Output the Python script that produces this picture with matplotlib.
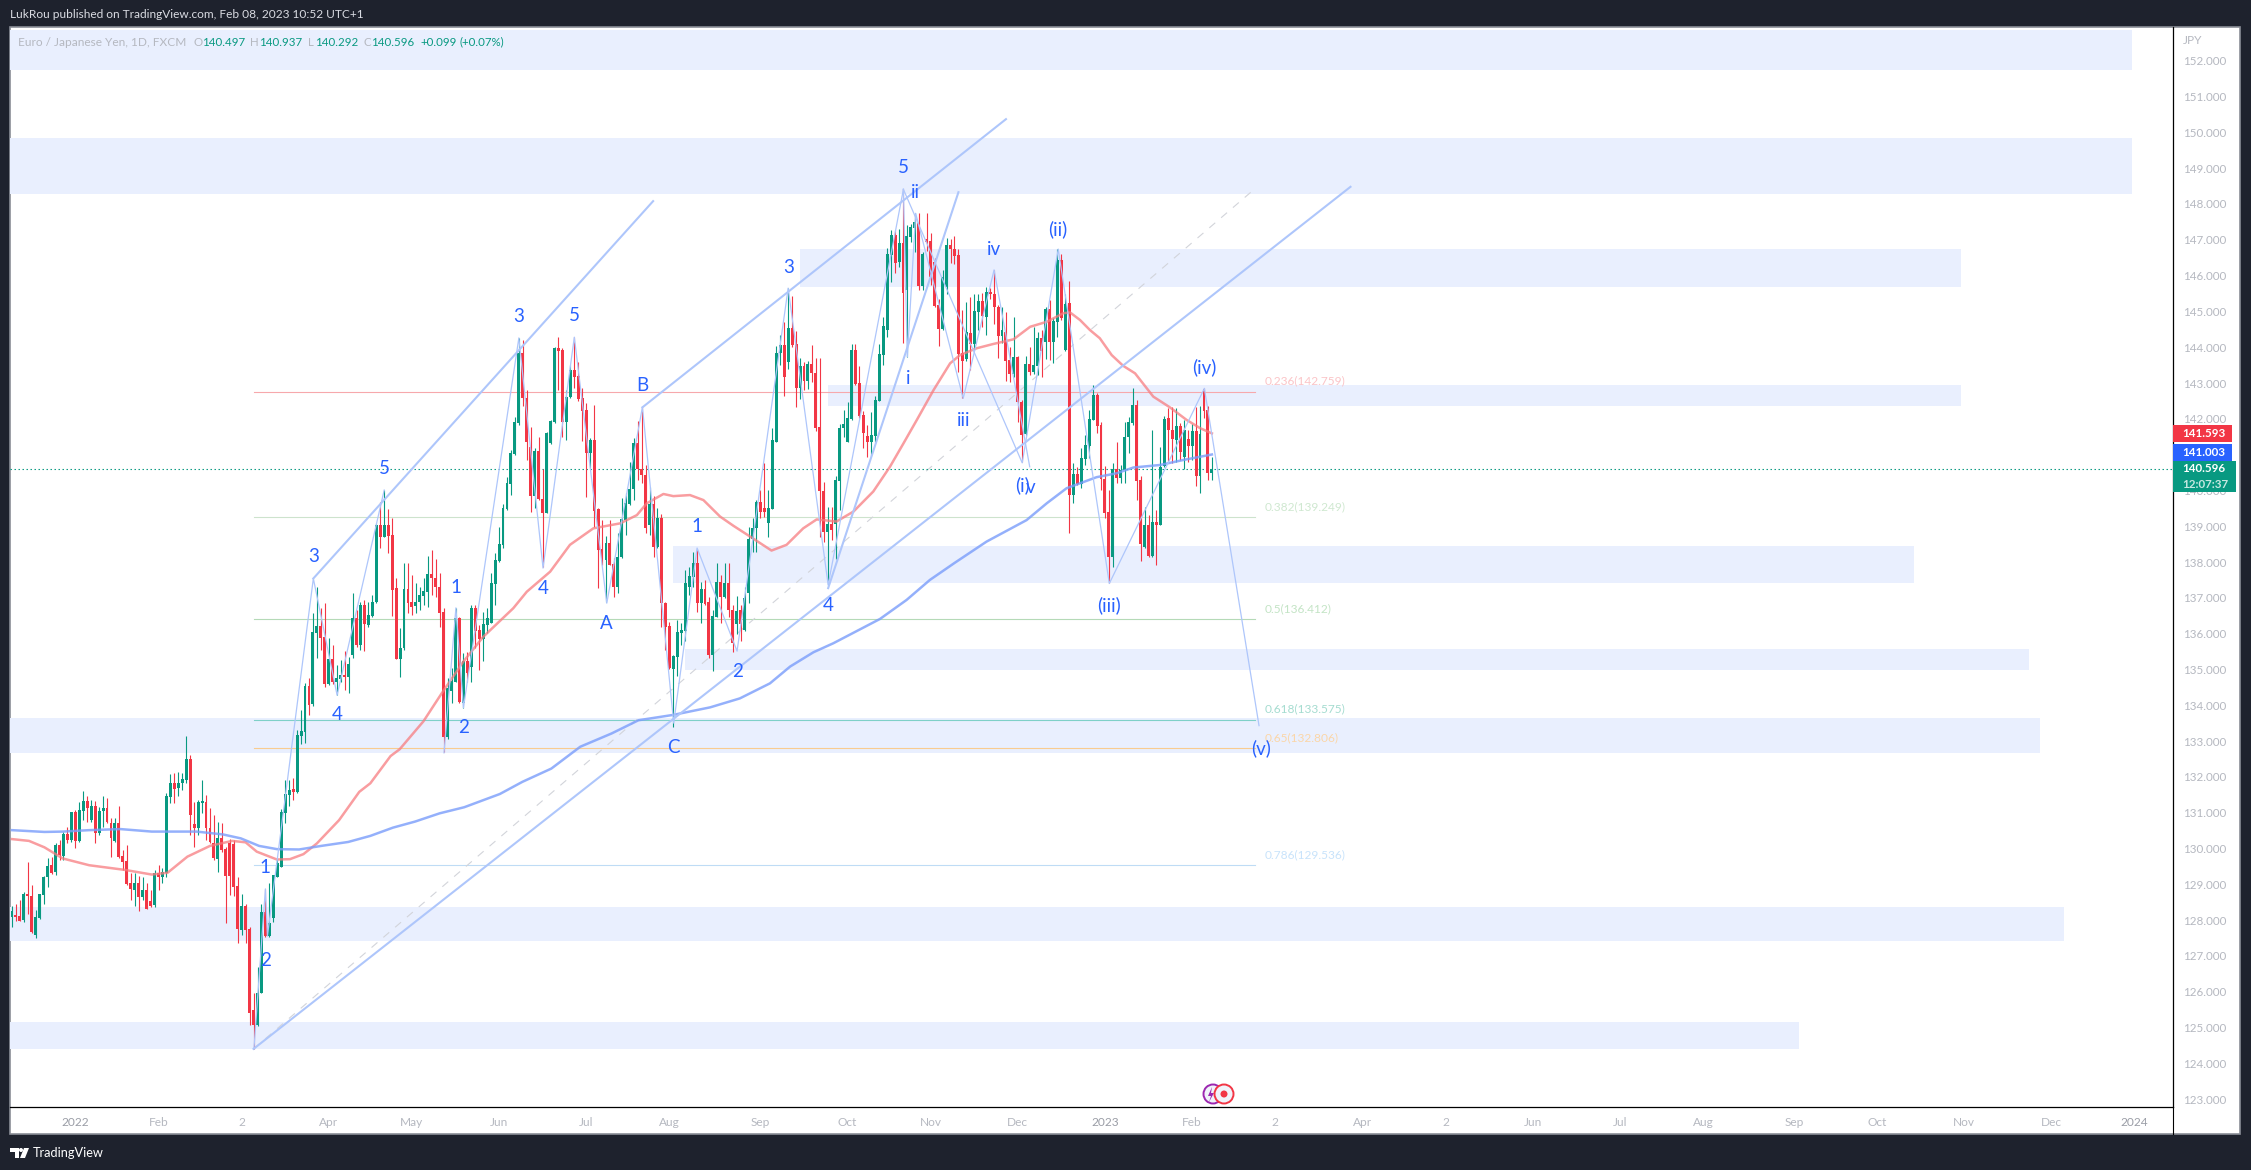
"""
EUR/JPY daily candles with elliott wave counts, fib levels and zones.
Values read by eye off the published TradingView chart.
"""

import matplotlib
matplotlib.use("Agg")
import matplotlib.pyplot as plt
from matplotlib.patches import Rectangle, Circle, Polygon
from matplotlib.transforms import Affine2D

W = 2251
H = 1170
plt.rcParams["font.family"] = ["Lato", "DejaVu Sans"]

GREEN = "#089981"
RED = "#f23645"
BLUE = "#2962ff"
DARK = "#1e222d"
BAND = "#e9effe"
GREY = "#b5b8c0"

# candles, one row per 10 bars
opens = [
    128.09,128.14,128.11,127.99,128.72,128.68,127.58,128.06,128.70,129.19,
    129.53,129.35,130.09,129.79,130.40,130.23,131.01,130.21,131.05,131.32,
    130.79,131.18,130.42,131.04,131.12,130.70,130.21,130.70,129.79,129.65,
    129.02,128.84,129.02,128.63,128.84,128.54,128.42,129.30,129.19,129.32,
    131.44,131.83,131.68,131.83,131.91,132.51,130.67,130.58,131.28,131.30,
    130.56,130.14,129.70,130.28,129.98,130.14,130.11,128.95,127.72,128.39,
    127.74,125.49,125.07,125.95,128.23,127.55,128.05,129.21,129.49,130.98,
    131.49,131.65,131.58,133.14,133.26,134.53,134.03,136.01,136.21,135.90,
    134.59,135.29,134.64,134.73,134.83,134.80,135.40,136.43,135.68,136.80,
    136.24,136.49,136.89,139.04,138.71,139.04,138.75,137.26,135.29,135.59,
    137.24,136.89,136.77,136.89,137.06,137.17,137.66,137.54,137.29,136.59,
    133.10,134.41,134.66,136.43,134.07,135.24,135.08,136.71,136.10,135.85,
    136.24,136.31,137.38,138.03,138.47,139.47,140.18,141.02,141.87,143.85,
    142.57,141.20,139.84,141.09,139.75,139.38,141.32,141.92,143.98,143.92,
    141.92,142.60,143.35,143.20,142.57,142.25,141.04,141.41,139.47,138.35,
    138.06,138.52,137.94,137.31,138.13,139.17,139.62,140.03,141.32,140.59,
    140.43,139.03,139.62,138.43,139.24,136.86,136.21,135.01,135.36,136.03,
    136.08,137.31,137.59,137.96,136.85,137.24,136.89,135.40,136.47,137.45,
    137.03,137.42,136.66,136.27,136.66,136.10,137.14,138.63,138.94,139.67,
    139.50,139.08,139.49,141.36,143.83,144.06,143.60,144.55,144.09,142.87,
    143.47,143.06,143.53,143.29,141.78,139.98,138.85,139.06,139.06,140.27,
    141.73,141.36,141.99,143.92,142.99,142.11,141.53,141.36,141.53,142.51,
    143.78,144.48,146.57,147.13,146.39,146.90,145.61,147.09,147.32,147.48,
    145.71,147.01,146.98,146.39,145.18,144.51,145.69,146.85,146.75,146.57,
    143.83,143.66,144.41,144.09,144.97,145.30,144.85,145.53,145.49,145.13,
    144.32,144.43,143.64,143.25,143.74,142.48,141.58,143.53,143.32,143.47,
    144.27,144.15,145.06,144.15,144.71,146.43,143.92,145.23,139.87,140.46,
    140.18,140.88,141.24,141.97,142.67,141.83,140.31,139.41,138.15,140.59,
    140.34,140.57,141.48,141.89,142.39,140.29,138.41,139.04,138.17,139.13,
    139.04,140.68,142.01,141.69,141.41,141.80,140.92,141.43,141.24,141.67,
    140.39,142.82,142.25,140.497,
]
closes = [
    128.25,128.09,127.98,128.72,128.68,127.67,128.09,128.72,129.19,129.52,
    129.32,130.09,129.81,130.40,130.23,131.01,130.21,131.07,131.32,131.12,
    131.18,130.44,131.05,131.12,130.75,130.30,130.72,129.77,129.63,129.00,
    128.88,129.02,128.63,128.84,128.32,128.39,129.32,129.21,129.35,131.47,
    131.82,131.65,131.84,131.93,132.51,130.93,130.58,131.29,131.33,130.56,
    130.19,129.72,130.28,129.95,129.24,129.23,128.93,127.74,128.39,127.72,
    125.41,125.07,125.95,128.23,127.55,127.93,129.26,129.58,131.01,131.51,
    131.63,131.58,133.17,133.28,134.53,134.00,136.05,136.22,135.89,134.59,
    135.29,134.66,134.75,134.83,134.80,135.15,136.43,135.68,136.80,136.27,
    136.52,136.89,139.04,138.71,139.04,138.73,137.22,135.29,135.59,137.24,
    136.86,136.73,136.89,137.08,137.20,137.66,137.54,137.29,136.58,133.12,
    134.47,134.68,136.43,134.10,135.24,134.89,136.71,136.08,135.85,136.27,
    136.43,137.40,138.06,138.49,139.50,140.20,141.04,141.90,143.85,142.57,
    141.36,139.84,141.11,139.75,139.38,141.59,141.94,143.99,143.90,141.92,
    142.62,143.35,143.18,142.54,142.23,141.04,141.41,139.43,138.34,138.06,
    138.52,137.92,137.31,138.13,139.19,139.64,140.03,141.32,140.59,140.43,
    138.94,139.62,138.43,139.24,136.86,136.19,135.03,135.38,136.05,136.10,
    137.42,137.61,137.96,136.85,137.24,136.83,135.40,136.49,137.45,137.03,
    137.42,136.66,135.75,136.64,136.27,136.99,138.63,138.94,139.67,139.41,
    139.41,139.50,141.41,143.85,144.06,143.18,144.55,144.06,142.87,143.47,
    143.06,143.53,143.27,141.75,139.97,138.85,139.06,138.89,140.29,141.75,
    141.85,142.03,143.92,142.97,142.09,141.59,141.36,141.55,142.53,143.81,
    144.59,146.60,147.13,146.34,146.90,145.52,147.11,147.35,147.51,145.71,
    146.60,146.95,145.97,145.15,144.51,145.97,146.85,146.73,146.55,143.81,
    143.62,144.43,144.09,145.00,145.30,144.87,145.53,145.48,145.11,144.32,
    144.48,143.62,143.25,143.72,142.48,141.55,143.53,143.32,143.50,144.27,
    143.88,145.07,144.15,144.74,146.43,144.81,145.22,139.87,140.46,140.18,
    140.90,141.27,141.99,142.67,141.80,140.31,139.38,138.15,140.59,140.34,
    140.57,141.48,141.92,142.39,140.27,138.50,139.04,138.17,139.13,139.04,
    140.64,142.00,141.69,141.43,141.80,141.08,141.69,141.24,141.67,140.39,
    141.58,142.23,140.50,140.596,
]
highs = [
    128.39,128.45,128.56,128.79,129.62,128.98,128.28,128.74,129.23,129.72,
    129.77,130.16,130.23,130.47,130.59,131.01,131.07,131.30,131.60,131.46,
    131.35,131.33,131.16,131.46,131.40,130.84,130.84,131.18,129.95,130.09,
    129.30,129.30,129.23,129.21,129.02,128.84,129.40,129.53,129.44,131.54,
    132.08,132.10,132.14,132.11,133.14,132.60,131.30,131.35,131.91,131.49,
    131.12,130.93,130.75,130.70,130.05,130.25,130.23,129.21,128.74,128.46,
    127.81,125.95,126.70,128.46,128.86,129.02,129.26,129.72,131.09,131.91,
    131.91,131.96,133.32,133.88,134.63,134.75,136.57,137.31,136.71,136.86,
    135.87,135.68,135.12,135.26,135.52,135.36,137.14,136.66,136.89,136.94,
    136.89,137.08,139.08,139.68,140.01,139.47,139.22,137.54,136.15,137.98,
    137.98,137.64,137.40,137.31,137.54,138.17,138.34,138.07,137.68,136.71,
    134.75,135.03,136.71,136.47,135.45,135.50,136.80,136.80,136.24,136.61,
    136.71,137.68,138.24,138.99,139.62,140.38,141.13,142.06,144.25,144.20,
    142.80,141.78,141.18,141.48,140.59,141.62,141.97,144.01,144.28,143.97,
    142.80,143.50,144.28,143.60,142.85,142.45,141.45,142.39,139.50,139.17,
    138.73,139.17,138.10,138.80,139.78,139.92,140.80,141.45,141.95,142.32,
    140.71,140.10,139.83,139.50,139.33,136.89,136.33,135.40,136.38,136.29,
    137.78,137.87,138.29,138.35,137.45,137.50,137.03,136.66,137.96,137.64,
    137.96,137.96,136.80,137.05,136.80,137.31,138.99,139.22,139.73,140.01,
    140.76,140.01,141.73,144.03,144.34,144.71,145.64,145.43,144.46,143.69,
    143.60,143.62,144.06,143.69,143.69,140.24,139.53,139.53,140.40,141.85,
    142.25,142.48,144.09,144.09,143.47,142.23,141.83,142.20,142.64,144.09,
    144.83,146.76,147.27,147.27,147.29,148.41,147.41,147.44,147.74,147.76,
    146.67,147.76,147.20,146.48,145.36,146.16,147.04,147.01,147.11,146.73,
    145.04,145.27,145.41,145.50,145.50,145.52,145.67,145.64,146.16,145.18,
    145.13,144.99,144.00,144.85,143.75,142.52,143.75,144.00,144.57,144.43,
    144.48,145.13,145.32,144.81,146.74,146.60,145.50,145.85,140.76,140.66,
    141.18,141.55,142.25,142.95,142.71,141.92,140.67,140.01,140.76,141.36,
    140.71,141.92,142.06,142.87,142.53,140.40,139.55,139.31,141.69,139.44,
    141.22,142.08,142.29,142.34,142.29,141.87,141.97,141.69,141.86,142.34,
    142.36,142.85,142.36,140.937,
]
lows = [
    127.81,127.98,127.98,127.95,128.18,127.63,127.51,128.04,128.45,128.93,
    129.28,129.26,129.67,129.67,130.14,130.19,130.00,130.19,130.79,130.75,
    130.75,130.16,130.37,130.61,130.70,129.77,130.19,129.72,129.40,128.98,
    128.56,128.39,128.26,128.56,128.30,128.35,128.37,128.84,129.04,129.21,
    131.26,131.28,131.46,131.63,131.82,130.37,130.05,130.37,130.98,130.23,
    130.16,129.69,129.35,129.91,127.91,128.70,128.67,127.35,127.58,127.35,
    125.07,124.40,125.04,125.95,127.53,127.53,127.95,129.19,129.49,130.72,
    131.18,131.35,131.56,132.93,132.95,133.73,133.98,135.33,135.54,134.52,
    134.57,134.59,134.29,134.66,134.42,134.33,135.31,135.63,135.54,135.52,
    136.19,136.47,136.85,138.38,138.71,138.26,136.49,135.29,134.80,135.54,
    136.57,136.52,136.57,136.66,136.80,136.75,137.08,137.03,136.19,132.68,
    133.07,134.05,134.66,134.07,133.93,134.66,134.66,135.59,134.98,135.24,
    136.01,136.29,136.80,138.01,138.38,139.45,139.87,140.99,141.83,142.36,
    140.85,139.41,139.50,139.73,137.87,139.36,141.30,141.87,142.80,141.50,
    141.41,142.57,142.85,142.51,141.39,139.81,140.62,138.99,137.26,137.92,
    136.89,137.92,137.03,137.14,138.10,138.75,139.59,139.73,140.29,140.20,
    138.80,138.75,138.15,138.38,136.19,135.54,135.00,133.40,134.82,135.68,
    135.79,137.08,137.31,136.61,136.31,136.80,135.31,134.96,136.47,136.29,
    136.99,136.47,135.50,136.00,135.78,136.08,136.85,138.29,138.29,139.22,
    139.25,138.71,139.49,141.36,143.50,142.64,143.38,144.01,142.32,142.54,
    142.80,142.82,143.04,141.67,138.71,138.57,137.36,138.61,138.07,139.45,
    141.50,141.36,141.97,142.94,142.01,141.19,140.94,140.97,141.36,142.51,
    143.50,144.29,145.83,146.08,146.25,144.11,143.73,146.95,146.67,145.60,
    145.60,146.70,145.74,145.13,144.03,144.48,145.49,146.34,146.32,143.32,
    142.57,143.62,143.36,143.92,144.48,144.57,144.34,145.36,144.65,143.69,
    144.11,143.06,143.04,143.18,141.92,140.78,141.55,143.22,143.25,143.22,
    143.18,143.66,143.64,143.55,144.29,144.76,143.88,138.82,139.64,140.15,
    140.06,140.71,140.90,141.97,141.60,140.01,139.22,137.41,137.87,140.20,
    140.20,140.20,141.04,141.83,139.73,138.04,138.39,138.15,138.15,137.92,
    139.04,140.66,140.80,140.76,140.80,140.85,140.59,140.80,140.85,140.11,
    139.94,142.01,140.29,140.292,
]

# moving averages, (bar, price) read at the bends
ma_red_x = [0, 4.3, 8.2, 12.8, 19.5, 28.5, 35.3, 39.3, 44.3, 50, 55.6, 59, 61.8, 66.9, 70.2, 73.6, 77,
            82.6, 87.7, 90.5, 95.6, 97.9, 103.9, 108.5, 114, 119, 126.6, 130, 135.9, 140.9, 146.8,
            153.6, 157.8, 160.3, 164.5, 167, 171.2, 174.6, 178.8, 182.2, 186.4, 191.8, 195.6, 199.8,
            203.2, 208.2, 212.5, 217.5, 221.7, 225.1, 228.5, 232.7, 236.9, 239.4, 243.6, 247.8,
            252.9, 257.1, 261.3, 265.5, 267.2, 269.7, 272.2, 274.7, 277.7, 280.6, 283.6, 288.2,
            292.4, 296.6, 300, 303]
ma_red_y = [130.26, 130.21, 130.03, 129.72, 129.53, 129.40, 129.27, 129.32, 129.77, 130.07, 130.21, 130.17,
            129.91, 129.69, 129.70, 129.84, 130.14, 130.79, 131.58, 131.82, 132.58, 132.77, 133.55,
            134.33, 135.22, 135.91, 136.71, 137.17, 137.73, 138.48, 138.94, 139.08, 139.31, 139.64,
            139.90, 139.84, 139.87, 139.73, 139.27, 139.01, 138.71, 138.32, 138.48, 138.94, 139.19,
            139.13, 139.41, 139.97, 140.66, 141.31, 141.97, 142.80, 143.55, 143.78, 143.97, 144.09,
            144.22, 144.57, 144.71, 144.95, 144.97, 144.76, 144.48, 144.25, 143.78, 143.48, 143.27,
            142.62, 142.32, 141.97, 141.74, 141.593]
ma_blue_x = [0, 8.2, 12.8, 19.5, 27.4, 35.3, 46.6, 53.3, 57.8, 62.4, 66.9, 72.5, 78.1, 84.9, 90.5, 96.2,
             101.8, 108, 114.2, 123.2, 128.9, 136.2, 143.5, 151.4, 158.2, 167, 176.3, 183.8, 191.4,
             196.5, 202.4, 207.4, 219.2, 225.9, 231.8, 238.1, 246.1, 256.2, 261.3, 266.3, 273.9,
             279, 283.2, 289.9, 295.8, 303]
ma_blue_y = [130.51, 130.46, 130.47, 130.51, 130.54, 130.47, 130.47, 130.39, 130.28, 130.07, 129.98, 129.97,
             130.07, 130.18, 130.35, 130.58, 130.75, 130.98, 131.15, 131.52, 131.86, 132.23, 132.84,
             133.21, 133.58, 133.73, 133.94, 134.19, 134.61, 135.08, 135.48, 135.73, 136.41, 136.94,
             137.50, 137.98, 138.57, 139.17, 139.64, 140.06, 140.37, 140.48, 140.64, 140.71, 140.85,
             141.003]

# supply / demand zones: first bar, last bar, bottom, top
zone_start = [-1, -1, 199, 206, 167, 170, -1, -1, -1]
zone_end = [535.4, 535.4, 492.2, 492.2, 480.3, 509.3, 512.1, 518.2, 451.3]
zone_low = [151.73, 148.29, 145.69, 142.36, 137.42, 134.98, 132.67, 127.41, 124.40]
zone_high = [152.86, 149.85, 146.74, 142.94, 138.45, 135.57, 133.64, 128.36, 125.15]

# fib retracement
fib_levels = [142.759, 139.249, 136.412, 133.575, 132.806, 129.536]
fib_names = ["0.236(142.759)", "0.382(139.249)", "0.5(136.412)", "0.618(133.575)", "0.65(132.806)", "0.786(129.536)"]
fib_text_y = [143.06, 139.54, 136.69, 133.89, 133.09, 129.82]
fib_line_col = ["#f7a8ac", "#cde3cd", "#b5dab7", "#7fd0c8", "#f9cb8f", "#bfdcf5"]
fib_text_col = ["#fbc4c7", "#cfe8d0", "#c3e4c5", "#a5dcd0", "#fbd6a8", "#c8e3fb"]

# trend channels
chan_x = [[61, 338], [76.1, 161.9], [159.2, 251], [206.1, 239]]
chan_y = [[124.40, 148.48], [137.54, 148.08], [142.32, 150.37], [137.27, 148.33]]

# wave paths
path_x = [
    [61.1, 64.0, 64.5, 76.1, 82.1, 94.0],
    [109.1, 112.1, 114, 128, 134.1, 142, 150.2, 159.2, 167.1, 173, 183.1, 196, 206.1, 225.1],
    [225.1, 226.1, 228.2, 240.2, 248, 257],
    [225.1, 255.1, 264.2, 277.1, 301.1, 314.9],
]
path_y = [
    [124.40, 128.87, 127.55, 137.54, 134.28, 140.01],
    [132.67, 136.72, 133.93, 144.26, 137.83, 144.28, 136.85, 142.33, 133.50, 138.39, 135.51, 145.65, 137.36, 148.41],
    [148.41, 143.73, 147.74, 142.57, 146.16, 140.66],
    [148.41, 140.77, 146.74, 137.40, 142.85, 133.43],
]

wave_text = ["3", "5", "3", "5", "B", "1", "4", "2", "4", "A", "C", "1", "2", "4", "3", "i", "iii", "(i)", "v",
             "(iii)", "5", "ii", "iv", "(ii)", "(iv)", "1", "2", "(v)"]
wave_x = [76.1, 94.0, 128.0, 142.0, 159.3, 112.1, 82.1, 114.0, 134.1, 150.2, 166.9, 173.0, 183.1, 206.1, 196.0,
          226.2, 240.2, 255.1, 257.2, 277.0, 225.0, 228.2, 248.0, 264.1, 301.2, 64.0, 64.0, 315.3]
wave_y = [138.15, 140.60, 144.85, 144.88, 142.92, 137.28, 133.75, 133.37, 137.25, 136.27, 132.81, 138.99, 134.94,
          136.78, 146.24, 143.13, 141.94, 140.15, 140.07, 136.78, 149.01, 148.32, 146.72, 147.30, 143.43,
          129.46, 126.86, 132.80]

# time axis (bar number of each label)
time_pos = [16, 37, 58, 80, 101, 123, 145, 166, 189, 211, 232, 254, 276, 298, 319, 341, 362, 384, 406, 427, 450,
            471, 493, 515, 536]
time_labels = ["2022", "Feb", "2", "Apr", "May", "Jun", "Jul", "Aug", "Sep", "Oct", "Nov", "Dec", "2023", "Feb", "2",
               "Apr", "2", "Jun", "Jul", "Aug", "Sep", "Oct", "Nov", "Dec", "2024"]
# 141 sits right under the price tags in the original
price_ticks = [p for p in range(123, 153) if p != 141]

last_price = 140.596

TXT = 8.6

# pixel space of the whole picture, y going down
px = Affine2D().scale(1, -1).translate(0, H)


def box(x0, y0, x1, y1, color, zorder=-1, **kw):
    fig.add_artist(Rectangle((x0, y0), x1 - x0, y1 - y0, transform=px, facecolor=color,
                             edgecolor=kw.pop("edgecolor", "none"), zorder=zorder, **kw))


def label(x, y, text, color, size=TXT, ha="left", va="center", **kw):
    fig.text(x, y, text, transform=px, color=color, fontsize=size, ha=ha, va=va, zorder=6, **kw)


def draw_candles(ax):
    bars = range(len(opens))
    colors = [GREEN if closes[i] >= opens[i] else RED for i in bars]
    ax.vlines(list(bars), lows, highs, colors=colors, linewidth=0.8, zorder=3)
    bottoms = [min(opens[i], closes[i]) for i in bars]
    heights = [max(abs(closes[i] - opens[i]), 0.03) for i in bars]
    ax.bar(list(bars), heights, bottom=bottoms, width=0.74, color=colors, linewidth=0, zorder=3)


fig = plt.figure(figsize=(W / 100, H / 100), dpi=100, facecolor=DARK)

# white sheet behind chart and scales
box(10, 27, 2240, 1134, "white", edgecolor="#8a8d96", linewidth=1.2)

ax = fig.add_axes([10 / W, 1 - 1107 / H, (2173 - 10) / W, (1107 - 27) / H])
ax.set_facecolor("white")
ax.patch.set_alpha(0)
ax.set_xlim(-0.5, 545.7)
ax.set_ylim(122.777, 152.944)
for s in ["top", "left"]:
    ax.spines[s].set_visible(False)
for s in ["bottom", "right"]:
    ax.spines[s].set_color("black")
    ax.spines[s].set_linewidth(0.9)

for i in range(len(zone_low)):
    ax.fill_between([zone_start[i], zone_end[i]], zone_low[i], zone_high[i], color=BAND, linewidth=0, zorder=1)

for i in range(len(fib_levels)):
    ax.plot([61, 314], [fib_levels[i], fib_levels[i]], color=fib_line_col[i], linewidth=0.8, zorder=2)
    ax.text(316.2, fib_text_y[i], fib_names[i], color=fib_text_col[i], fontsize=TXT, va="center", zorder=6)

ax.plot([61, 314], [124.40, 148.44], color="#d2d4da", linewidth=0.8, linestyle=(0, (7, 7)), zorder=2)
ax.axhline(last_price, color=GREEN, linewidth=0.8, linestyle=(0, (1.3, 2.3)), zorder=2)

draw_candles(ax)

ax.plot(ma_red_x, ma_red_y, color="#f77c80", alpha=0.75, linewidth=1.8, zorder=4)
ax.plot(ma_blue_x, ma_blue_y, color="#7a9dfb", alpha=0.8, linewidth=1.8, zorder=4)

for x, y in zip(chan_x, chan_y):
    ax.plot(x, y, color="#aec6fb", linewidth=1.5, zorder=5)
for x, y in zip(path_x, path_y):
    ax.plot(x, y, color="#aec6fb", linewidth=0.9, zorder=5)

for t, x, y in zip(wave_text, wave_x, wave_y):
    ax.text(x, y, t, color=BLUE, fontsize=13.5, ha="center", va="center", zorder=6)

ax.set_xticks(time_pos, time_labels)
ax.tick_params(axis="x", length=0, pad=7, labelsize=TXT, labelcolor=GREY)
for t in ax.get_xticklabels():
    if t.get_text() in ["2022", "2023", "2024"]:
        t.set_color("#9a9da6")
ax.yaxis.tick_right()
ax.set_yticks(price_ticks, [f"{p:.3f}" for p in price_ticks])
ax.tick_params(axis="y", length=0, pad=7, labelsize=8.4, labelcolor=GREY)

# scale corner line, runs on under the time axis
fig.add_artist(plt.Line2D([2173, 2173], [1107, 1134], transform=px, color="black", linewidth=0.8, zorder=3))
label(2183, 41, "JPY", GREY)

# price tags on the scale
box(2173, 425, 2232, 442, RED, zorder=5)
box(2173, 444, 2232, 461, BLUE, zorder=5)
box(2173, 461, 2236, 492, GREEN, zorder=5)
label(2204, 433.5, "141.593", "white", size=8.4, ha="center", fontweight="bold")
label(2204, 452.5, "141.003", "white", size=8.4, ha="center", fontweight="bold")
label(2204, 469, "140.596", "white", size=8.4, ha="center", fontweight="bold")
label(2205, 484, "12:07:37", "#c6e8e1", size=8.4, ha="center", fontweight="bold")

# header and legend
label(10, 15, "LukRou published on TradingView.com, Feb 08, 2023 10:52 UTC+1", "#d9dbe2")
label(18, 42, "Euro / Japanese Yen, 1D, FXCM", GREY)
for x, t, c in [(193, "O", GREY), (202, "140.497", GREEN), (250, "H", GREY), (259, "140.937", GREEN),
                (308, "L", GREY), (315, "140.292", GREEN), (364, "C", GREY), (371, "140.596", GREEN),
                (420, "+0.099", GREEN), (460, "(+0.07%)", GREEN)]:
    label(x, 42, t, c, size=8.3)

# event icons under the last bars
fig.add_artist(Circle((1213, 1094), 9.5, transform=px, facecolor="#f0f3fa", edgecolor="#9c27b0", linewidth=1.4, zorder=5))
fig.add_artist(Polygon([(1212, 1087), (1208, 1096), (1211, 1096), (1209, 1102), (1214, 1093), (1211, 1093)],
                       transform=px, facecolor="#9c27b0", edgecolor="none", zorder=5))
fig.add_artist(Circle((1224, 1094), 9.5, transform=px, facecolor="#f0f3fa", edgecolor=RED, linewidth=1.4, zorder=5))
fig.add_artist(Circle((1224, 1094), 3.5, transform=px, facecolor=RED, edgecolor="none", zorder=5))

# footer logo
fig.add_artist(Polygon([(10, 1148), (19, 1148), (19, 1158), (15, 1158), (15, 1152), (10, 1152)], transform=px,
                       facecolor="white", edgecolor="none", zorder=5))
fig.add_artist(Circle((21, 1150), 2, transform=px, facecolor="white", edgecolor="none", zorder=5))
fig.add_artist(Polygon([(24, 1148), (29, 1148), (25, 1158), (20, 1158)], transform=px,
                       facecolor="white", edgecolor="none", zorder=5))
label(33, 1153, "TradingView", "white", size=9.2)

fig.savefig("out.png", dpi=100, facecolor=DARK)
